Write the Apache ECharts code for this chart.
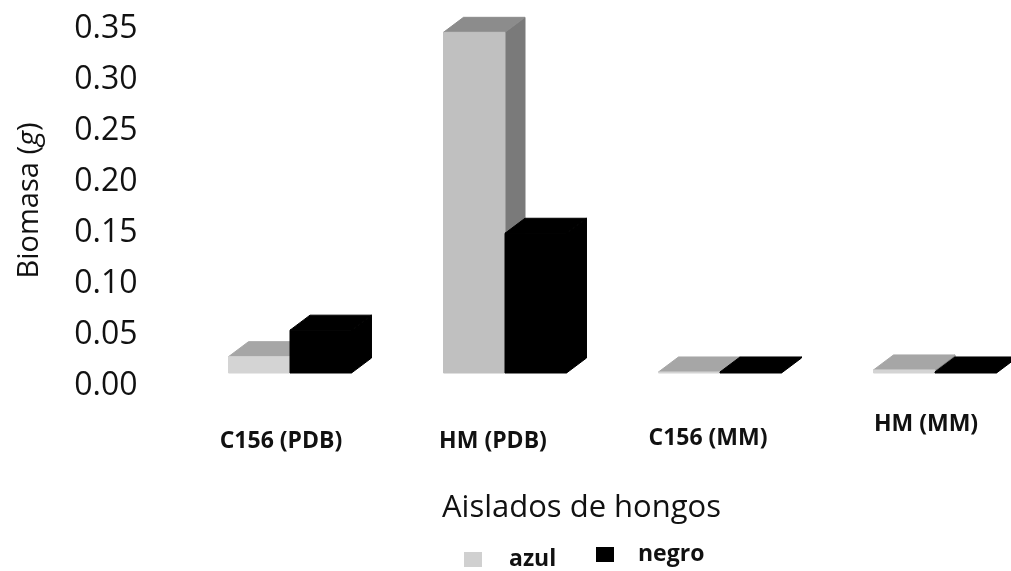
<!DOCTYPE html>
<html>
<head>
<meta charset="utf-8">
<style>html,body{margin:0;padding:0;background:#fff}#chart{width:1011px;height:571px}</style>
<script src="https://cdn.jsdelivr.net/npm/echarts@6/dist/echarts.min.js"></script>
</head>
<body>
<div id="chart"></div>
<script>
// Biomass per fungal isolate and culture medium
const categories = ['C156 (PDB)', 'HM (PDB)', 'C156 (MM)', 'HM (MM)'];
const azul = [0.016, 0.334, 0.001, 0.003];
const negro = [0.042, 0.137, 0.001, 0.001];
const yTicks = ['0.00', '0.05', '0.10', '0.15', '0.20', '0.25', '0.30', '0.35'];

// Pseudo-3D extrusion of each bar, and the lift of the floor above the zero tick
const DEPTH_X = 20, DEPTH_Y = 15, FLOOR_LIFT = 13;

const azulFaces = {
  front: ['#d4d4d4', '#c0c0c0', '#d4d4d4', '#d4d4d4'],
  top: ['#a6a6a6', '#8c8c8c', '#a6a6a6', '#a6a6a6'],
  side: ['#7a7a7a', '#7a7a7a', '#7a7a7a', '#7a7a7a']
};
const negroFaces = {
  front: ['#000', '#000', '#000', '#000'],
  top: ['#000', '#000', '#000', '#000'],
  side: ['#000', '#000', '#000', '#000']
};

function bar3d(side, faces) {
  return function (params, api) {
    const i = api.value(0);
    const base = api.coord([i, 0]);
    const head = api.coord([i, api.value(1)]);
    const w = api.size([1, 0])[0] * 0.286;
    const x0 = side < 0 ? base[0] - w : base[0];
    const x1 = x0 + w;
    const y0 = base[1] - FLOOR_LIFT;
    const y1 = head[1] - FLOOR_LIFT;
    const poly = (points, fill) => ({
      type: 'polygon',
      shape: { points },
      style: { fill, stroke: fill, lineWidth: 1 }
    });
    return {
      type: 'group',
      children: [
        poly([[x1, y0], [x1 + DEPTH_X, y0 - DEPTH_Y], [x1 + DEPTH_X, y1 - DEPTH_Y], [x1, y1]], faces.side[i]),
        poly([[x0, y1], [x0 + DEPTH_X, y1 - DEPTH_Y], [x1 + DEPTH_X, y1 - DEPTH_Y], [x1, y1]], faces.top[i]),
        poly([[x0, y0], [x1, y0], [x1, y1], [x0, y1]], faces.front[i])
      ]
    };
  };
}

const boldLabel = { fontFamily: 'Open Sans', fontWeight: 'bold', fontSize: 23, color: '#111' };

const chart = echarts.init(document.getElementById('chart'), null, { renderer: 'canvas' });
chart.setOption({
  animation: false,
  backgroundColor: '#fff',
  grid: { left: 182.5, top: 29, width: 860, height: 357, outerBoundsMode: 'none' },
  legend: [
    {
      data: ['azul'], left: 459, top: 543, itemWidth: 18, itemHeight: 15,
      icon: 'rect', textStyle: Object.assign({}, boldLabel, { padding: [0, 0, 0, 22] })
    },
    {
      data: ['negro'], left: 591, top: 538, itemWidth: 18, itemHeight: 15,
      icon: 'rect', textStyle: Object.assign({}, boldLabel, { padding: [0, 0, 0, 19] })
    }
  ],
  xAxis: {
    type: 'category',
    data: categories,
    axisLine: { show: false },
    axisTick: { show: false },
    axisLabel: {
      interval: 0,
      margin: 27,
      formatter: (v, i) => `{c${i}|${v}}`,
      rich: {
        c0: Object.assign({}, boldLabel, { padding: [17, 18, 0, 0] }),
        c1: Object.assign({}, boldLabel, { padding: [17, 24, 0, 0] }),
        c2: Object.assign({}, boldLabel, { padding: [14, 24, 0, 0] }),
        c3: Object.assign({}, boldLabel, { padding: [0, 18, 0, 0] })
      }
    },
    name: 'Aislados de hongos',
    nameLocation: 'middle',
    nameGap: 107,
    nameTextStyle: { fontFamily: 'Open Sans', fontSize: 31, color: '#111', padding: [0, 62, 0, 0] }
  },
  yAxis: {
    type: 'value',
    min: 0,
    max: 0.35,
    interval: 0.05,
    axisLine: { show: false },
    axisTick: { show: false },
    splitLine: { show: false },
    axisLabel: {
      margin: 45,
      formatter: (v) => yTicks[Math.round(v / 0.05)],
      fontFamily: 'Open Sans',
      fontSize: 32,
      color: '#111'
    },
    name: 'Biomasa ({i|g})',
    nameLocation: 'middle',
    nameGap: 138,
    nameRotate: 90,
    nameTextStyle: {
      fontFamily: 'Open Sans',
      fontSize: 29,
      color: '#111',
      padding: [0, 0, 0, 14],
      rich: { i: { fontFamily: 'Open Sans', fontSize: 29, fontStyle: 'italic', color: '#111' } }
    }
  },
  series: [
    {
      name: 'azul',
      type: 'custom',
      renderItem: bar3d(-1, azulFaces),
      itemStyle: { color: '#d0d0d0' },
      encode: { x: 0, y: 1 },
      data: azul.map((v, i) => [i, v])
    },
    {
      name: 'negro',
      type: 'custom',
      renderItem: bar3d(1, negroFaces),
      itemStyle: { color: '#000' },
      encode: { x: 0, y: 1 },
      data: negro.map((v, i) => [i, v])
    }
  ]
});
</script>
</body>
</html>
